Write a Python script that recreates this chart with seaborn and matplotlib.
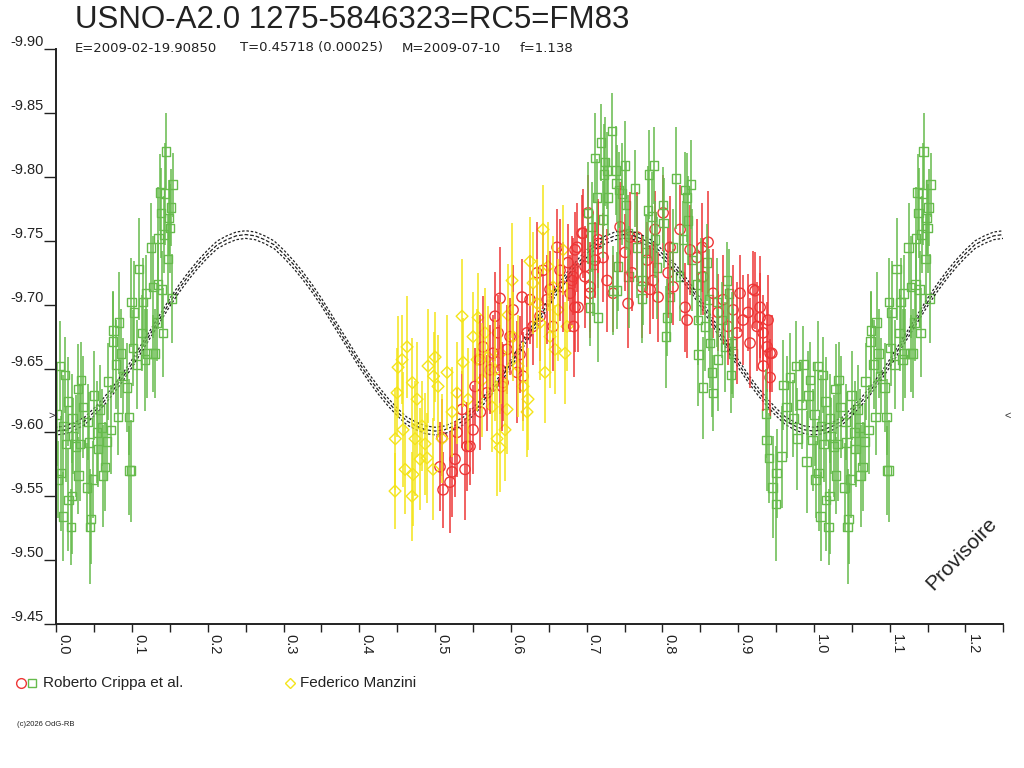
import numpy as np
import pandas as pd
import matplotlib
matplotlib.use("Agg")
import matplotlib.pyplot as plt
from matplotlib.lines import Line2D
from matplotlib.ticker import MultipleLocator
import seaborn as sns

crippa_green = [
    (0.0049, -9.652, 0.035), (0.0115, -9.645, 0.030), (0.0009, -9.614, 0.040), (0.0022, -9.563, 0.030),
    (0.0062, -9.568, 0.045), (0.0088, -9.534, 0.035), (0.0092, -9.605, 0.040), (0.0128, -9.591, 0.030),
    (0.0154, -9.624, 0.035), (0.0158, -9.547, 0.040), (0.0194, -9.526, 0.030), (0.0207, -9.550, 0.045),
    (0.0211, -9.611, 0.035), (0.0220, -9.597, 0.030), (0.0260, -9.589, 0.040), (0.0286, -9.634, 0.035),
    (0.0290, -9.566, 0.030), (0.0313, -9.591, 0.045), (0.0326, -9.641, 0.030), (0.0352, -9.620, 0.040),
    (0.0405, -9.557, 0.035), (0.0418, -9.608, 0.030), (0.0431, -9.592, 0.040), (0.0445, -9.526, 0.045),
    (0.0458, -9.532, 0.035), (0.0484, -9.563, 0.030), (0.0497, -9.629, 0.035), (0.0537, -9.600, 0.040),
    (0.0550, -9.587, 0.030), (0.0577, -9.618, 0.035), (0.0603, -9.604, 0.030), (0.0616, -9.566, 0.040),
    (0.0643, -9.573, 0.035), (0.0669, -9.593, 0.030), (0.0722, -9.602, 0.035), (0.0682, -9.640, 0.030),
    (0.0748, -9.671, 0.040), (0.0752, -9.680, 0.030), (0.0788, -9.653, 0.035), (0.0815, -9.612, 0.030),
    (0.0828, -9.686, 0.040), (0.0854, -9.662, 0.035), (0.0881, -9.644, 0.030), (0.0933, -9.635, 0.035),
    (0.0960, -9.612, 0.030), (0.0964, -9.570, 0.035), (0.0986, -9.570, 0.040), (0.0990, -9.702, 0.035),
    (0.1013, -9.666, 0.030), (0.1026, -9.694, 0.040), (0.1065, -9.653, 0.035), (0.1092, -9.728, 0.040),
    (0.1131, -9.678, 0.030), (0.1145, -9.702, 0.035), (0.1171, -9.657, 0.040), (0.1184, -9.709, 0.030),
    (0.1197, -9.662, 0.035), (0.1250, -9.745, 0.035), (0.1276, -9.662, 0.030), (0.1280, -9.714, 0.040),
    (0.1303, -9.662, 0.035), (0.1329, -9.686, 0.030), (0.1343, -9.716, 0.035), (0.1347, -9.752, 0.040),
    (0.1369, -9.788, 0.030), (0.1382, -9.772, 0.035), (0.1395, -9.712, 0.030), (0.1409, -9.678, 0.035),
    (0.1422, -9.755, 0.030), (0.1435, -9.787, 0.040), (0.1448, -9.820, 0.030), (0.1475, -9.736, 0.035),
    (0.1488, -9.768, 0.030), (0.1501, -9.760, 0.035), (0.1514, -9.776, 0.030), (0.1527, -9.705, 0.035),
    (0.1541, -9.794, 0.025),
    (0.7191, -9.827, 0.030), (0.7112, -9.815, 0.035), (0.7019, -9.772, 0.040), (0.7138, -9.784, 0.030),
    (0.7244, -9.812, 0.035), (0.7231, -9.802, 0.040), (0.7270, -9.805, 0.030), (0.7336, -9.836, 0.030),
    (0.7389, -9.805, 0.035), (0.7395, -9.795, 0.030), (0.7468, -9.787, 0.040), (0.7508, -9.809, 0.035),
    (0.7283, -9.784, 0.030), (0.7521, -9.778, 0.035), (0.7640, -9.791, 0.030), (0.7825, -9.802, 0.035),
    (0.7891, -9.809, 0.030), (0.8181, -9.799, 0.040), (0.8380, -9.794, 0.035), (0.8300, -9.790, 0.030),
    (0.8327, -9.784, 0.035), (0.8010, -9.778, 0.030), (0.7072, -9.761, 0.035), (0.7085, -9.731, 0.040),
    (0.7046, -9.698, 0.030), (0.7151, -9.690, 0.035), (0.7402, -9.711, 0.030), (0.7415, -9.730, 0.035),
    (0.7547, -9.756, 0.030), (0.7666, -9.745, 0.040), (0.7732, -9.705, 0.035), (0.7785, -9.741, 0.030),
    (0.7864, -9.769, 0.035), (0.7904, -9.751, 0.030), (0.7930, -9.729, 0.040), (0.8015, -9.764, 0.035),
    (0.8062, -9.690, 0.030), (0.8049, -9.675, 0.040), (0.8102, -9.706, 0.035), (0.8141, -9.745, 0.030),
    (0.8234, -9.722, 0.035), (0.8273, -9.751, 0.030), (0.8339, -9.766, 0.035), (0.8392, -9.735, 0.040),
    (0.8458, -9.716, 0.030), (0.8471, -9.688, 0.035), (0.8475, -9.661, 0.040), (0.8511, -9.722, 0.030),
    (0.8564, -9.683, 0.035), (0.8590, -9.733, 0.030), (0.8617, -9.704, 0.040), (0.8630, -9.670, 0.035),
    (0.8537, -9.635, 0.040), (0.8656, -9.647, 0.035), (0.8669, -9.631, 0.030), (0.8722, -9.702, 0.035),
    (0.8735, -9.657, 0.040), (0.8788, -9.688, 0.030), (0.8828, -9.667, 0.035), (0.8854, -9.719, 0.030),
    (0.8880, -9.709, 0.035), (0.8920, -9.670, 0.040), (0.8907, -9.645, 0.030), (0.8933, -9.662, 0.035),
    (0.7350, -9.711, 0.035), (0.7429, -9.790, 0.030), (0.7812, -9.774, 0.035), (0.7555, -9.722, 0.040),
    (0.7217, -9.767, 0.030), (0.7740, -9.719, 0.035),
    (0.9369, -9.615, 0.035), (0.9378, -9.594, 0.040), (0.9409, -9.580, 0.035), (0.9457, -9.557, 0.040),
    (0.9501, -9.544, 0.045), (0.9508, -9.568, 0.035), (0.9576, -9.581, 0.040), (0.9597, -9.637, 0.035),
    (0.9642, -9.620, 0.040), (0.9686, -9.643, 0.035), (0.9729, -9.611, 0.030), (0.9765, -9.652, 0.035),
    (0.9782, -9.595, 0.040), (0.9840, -9.622, 0.035), (0.9861, -9.653, 0.030), (0.9906, -9.577, 0.040),
    (0.9927, -9.629, 0.035), (0.9950, -9.641, 0.030), (0.9985, -9.594, 0.040),
]

crippa_red = [
    (0.5105, -9.555, 0.030), (0.5065, -9.573, 0.035), (0.5092, -9.596, 0.030), (0.5197, -9.561, 0.040),
    (0.5224, -9.569, 0.035), (0.5263, -9.579, 0.030), (0.5290, -9.600, 0.035), (0.5356, -9.618, 0.030),
    (0.5395, -9.571, 0.040), (0.5422, -9.589, 0.035), (0.5461, -9.589, 0.030), (0.5501, -9.602, 0.035),
    (0.5527, -9.636, 0.030), (0.5593, -9.657, 0.035), (0.5633, -9.667, 0.040), (0.5686, -9.631, 0.030),
    (0.5725, -9.649, 0.035), (0.5765, -9.662, 0.030), (0.5791, -9.691, 0.035), (0.5831, -9.678, 0.030),
    (0.5857, -9.705, 0.040), (0.5884, -9.636, 0.035), (0.5897, -9.639, 0.030), (0.5950, -9.665, 0.035),
    (0.5989, -9.675, 0.030), (0.6029, -9.696, 0.035), (0.6082, -9.647, 0.040), (0.6121, -9.661, 0.030),
    (0.6161, -9.644, 0.035), (0.6214, -9.678, 0.030), (0.6253, -9.704, 0.035), (0.6293, -9.683, 0.030),
    (0.6346, -9.725, 0.040), (0.6385, -9.691, 0.035), (0.6425, -9.727, 0.030), (0.6478, -9.704, 0.035),
    (0.6517, -9.712, 0.030), (0.6557, -9.683, 0.035), (0.6610, -9.745, 0.030), (0.6649, -9.727, 0.040),
    (0.6689, -9.714, 0.035), (0.6755, -9.733, 0.030), (0.6808, -9.719, 0.035), (0.6847, -9.743, 0.030),
    (0.6887, -9.698, 0.035), (0.6940, -9.756, 0.030), (0.6979, -9.722, 0.040), (0.7045, -9.709, 0.035),
    (0.7111, -9.735, 0.030), (0.7151, -9.748, 0.035), (0.6148, -9.706, 0.030), (0.5862, -9.649, 0.035),
    (0.5598, -9.616, 0.030),
    (0.6874, -9.745, 0.035), (0.6821, -9.722, 0.030), (0.6847, -9.698, 0.035), (0.6828, -9.683, 0.040),
    (0.7019, -9.772, 0.030), (0.6953, -9.756, 0.035), (0.6979, -9.730, 0.030), (0.7045, -9.714, 0.035),
    (0.7151, -9.751, 0.030), (0.7217, -9.737, 0.035), (0.7270, -9.719, 0.040), (0.7350, -9.709, 0.030),
    (0.7442, -9.761, 0.035), (0.7508, -9.741, 0.030), (0.7547, -9.701, 0.035), (0.7600, -9.725, 0.030),
    (0.7666, -9.753, 0.035), (0.7732, -9.714, 0.040), (0.7798, -9.735, 0.030), (0.7838, -9.712, 0.035),
    (0.7904, -9.759, 0.030), (0.7943, -9.706, 0.035), (0.8010, -9.772, 0.030), (0.8076, -9.725, 0.035),
    (0.8102, -9.745, 0.040), (0.8141, -9.714, 0.030), (0.8234, -9.759, 0.035), (0.8327, -9.688, 0.030),
    (0.8366, -9.743, 0.035), (0.8458, -9.737, 0.030), (0.8524, -9.745, 0.035), (0.8603, -9.749, 0.040),
    (0.8537, -9.722, 0.030), (0.8669, -9.709, 0.035), (0.8735, -9.694, 0.030), (0.8801, -9.704, 0.035),
    (0.8867, -9.683, 0.030), (0.8933, -9.696, 0.035), (0.8986, -9.678, 0.040), (0.9025, -9.709, 0.030),
    (0.9065, -9.688, 0.035), (0.9131, -9.694, 0.030), (0.9157, -9.670, 0.035), (0.9197, -9.712, 0.030),
    (0.9250, -9.683, 0.035), (0.9290, -9.698, 0.040), (0.9329, -9.678, 0.030), (0.9382, -9.667, 0.035),
    (0.9422, -9.662, 0.030), (0.9395, -9.688, 0.035), (0.7877, -9.719, 0.030), (0.7574, -9.753, 0.035),
    (0.6782, -9.709, 0.030), (0.8300, -9.698, 0.035), (0.9224, -9.711, 0.030), (0.9290, -9.690, 0.035),
    (0.9444, -9.662, 0.030), (0.9333, -9.652, 0.035), (0.9422, -9.643, 0.030),
]

manzini_yellow = [
    (0.4471, -9.554, 0.030), (0.4475, -9.595, 0.040), (0.4498, -9.631, 0.035), (0.4511, -9.651, 0.040),
    (0.4564, -9.657, 0.035), (0.4630, -9.667, 0.040), (0.4604, -9.571, 0.035), (0.4577, -9.602, 0.045),
    (0.4696, -9.550, 0.035), (0.4709, -9.567, 0.040), (0.4700, -9.639, 0.035), (0.4762, -9.626, 0.045),
    (0.4828, -9.605, 0.035), (0.4868, -9.591, 0.040), (0.4894, -9.580, 0.035), (0.4907, -9.652, 0.045),
    (0.4973, -9.571, 0.040), (0.5000, -9.659, 0.035), (0.5039, -9.636, 0.040), (0.5092, -9.595, 0.035),
    (0.5158, -9.647, 0.045), (0.5224, -9.616, 0.035), (0.5290, -9.631, 0.040), (0.5356, -9.691, 0.045),
    (0.5369, -9.655, 0.035), (0.5435, -9.626, 0.040), (0.5501, -9.675, 0.035), (0.5554, -9.657, 0.040),
    (0.5567, -9.690, 0.035), (0.5620, -9.641, 0.045), (0.5659, -9.678, 0.035), (0.5699, -9.659, 0.040),
    (0.5752, -9.620, 0.035), (0.5791, -9.649, 0.040), (0.5818, -9.595, 0.045), (0.5857, -9.588, 0.035),
    (0.5923, -9.602, 0.040), (0.5950, -9.618, 0.035), (0.5963, -9.692, 0.040), (0.6016, -9.719, 0.045),
    (0.6029, -9.675, 0.035), (0.6095, -9.652, 0.040), (0.6161, -9.636, 0.035), (0.6227, -9.626, 0.040),
    (0.6253, -9.734, 0.035), (0.6293, -9.717, 0.040), (0.6346, -9.701, 0.035), (0.6385, -9.686, 0.045),
    (0.6425, -9.759, 0.035), (0.6451, -9.647, 0.040), (0.6491, -9.730, 0.035), (0.6517, -9.675, 0.040),
    (0.6583, -9.665, 0.035), (0.6623, -9.696, 0.040), (0.6689, -9.743, 0.035), (0.6715, -9.662, 0.040),
    (0.6742, -9.683, 0.035), (0.6557, -9.714, 0.040), (0.4980, -9.644, 0.035), (0.4735, -9.595, 0.045),
    (0.4801, -9.579, 0.040), (0.6214, -9.616, 0.035), (0.5865, -9.662, 0.040),
]

# fitted light curve read over one half period (double wave)
model_phase = [0.0000, 0.0125, 0.0250, 0.0375, 0.0500, 0.0625, 0.0750, 0.0875, 0.1000, 0.1125,
               0.1250, 0.1375, 0.1500, 0.1625, 0.1750, 0.1875, 0.2000, 0.2125, 0.2250, 0.2375,
               0.2500, 0.2625, 0.2750, 0.2875, 0.3000, 0.3125, 0.3250, 0.3375, 0.3500, 0.3625,
               0.3750, 0.3875, 0.4000, 0.4125, 0.4250, 0.4375, 0.4500, 0.4625, 0.4750, 0.4875, 0.5000]
model_mag = [-9.601, -9.602, -9.605, -9.609, -9.616, -9.624, -9.633, -9.643, -9.654, -9.666,
             -9.678, -9.690, -9.702, -9.713, -9.723, -9.732, -9.740, -9.747, -9.751, -9.754,
             -9.755, -9.754, -9.751, -9.747, -9.740, -9.732, -9.723, -9.713, -9.702, -9.690,
             -9.678, -9.666, -9.654, -9.643, -9.633, -9.624, -9.616, -9.609, -9.605, -9.602, -9.601]
model_sigma = 0.003

x_ticks = [0.0, 0.1, 0.2, 0.3, 0.4, 0.5, 0.6, 0.7, 0.8, 0.9, 1.0, 1.1, 1.2]
y_ticks = [-9.90, -9.85, -9.80, -9.75, -9.70, -9.65, -9.60, -9.55, -9.50, -9.45]
phase_max = 1.25

c_green = "#66bb4c"
c_red = "#ee3636"
c_yellow = "#f4e41a"


def fold(points):
    df = pd.DataFrame(points, columns=["phase", "mag", "err"])
    again = df[df["phase"] + 1 <= phase_max].copy()
    again["phase"] += 1
    return pd.concat([df, again], ignore_index=True)


sns.set_style("white")
plt.rcParams["font.family"] = ["Liberation Sans", "DejaVu Sans"]

fig = plt.figure(figsize=(10.24, 7.68), dpi=100)
ax = fig.add_axes([56.3 / 1024, 144.2 / 768, 947 / 1024, 574.3 / 768])

# model curve, repeated every half period
half = pd.DataFrame({"phase": model_phase, "mag": model_mag})
curve = pd.concat([half.assign(phase=half["phase"] + k * 0.5) for k in range(3)])
curve = curve.drop_duplicates("phase")
curve = curve[curve["phase"] <= phase_max]
for off, ls in [(0, (0, (3, 1.5))), (-model_sigma, (1, (2, 1.5))), (model_sigma, (2, (2, 1.5)))]:
    sns.lineplot(x=curve["phase"].values, y=(curve["mag"] + off).values, color="#222222", lw=0.9,
                 linestyle=ls, estimator=None, sort=True, ax=ax)

series = [
    (fold(crippa_red), c_red, "o", 55),
    (fold(manzini_yellow), c_yellow, "D", 36),
    (fold(crippa_green), c_green, "s", 38),
]
for df, col, mk, size in series:
    ax.vlines(df["phase"], df["mag"] - df["err"], df["mag"] + df["err"], color=col, lw=1.1)
    sns.scatterplot(x=df["phase"], y=df["mag"], marker=mk, s=size, facecolor="none",
                    edgecolor=col, linewidth=1.0, ax=ax)

ax.set_xlim(0, phase_max)
ax.set_ylim(-9.45, -9.90)
ax.set_xlabel("")
ax.set_ylabel("")

for side in ["top", "right"]:
    ax.spines[side].set_visible(False)
for side in ["left", "bottom"]:
    ax.spines[side].set_color("#222222")
    ax.spines[side].set_linewidth(1.4)

ax.set_xticks(x_ticks)
ax.set_xticklabels([f"{v:.1f}" for v in x_ticks], rotation=-90, ha="left", va="top")
ax.xaxis.set_minor_locator(MultipleLocator(0.05))
ax.tick_params(axis="x", which="both", direction="out", length=6, width=1,
               color="#222222", bottom=True, pad=1.5, labelsize=10.5, labelcolor="#222222")
ax.set_yticks(y_ticks)
ax.set_yticklabels([f"{v:.2f}" for v in y_ticks], va="bottom")
ax.tick_params(axis="y", direction="out", length=8.5, width=1, color="#222222",
               left=True, pad=0.5, labelsize=10.5, labelcolor="#222222")

# mean level markers at both ends
ax.text(-0.002, -9.613, ">", ha="right", va="center", fontsize=8, color="#333333")
ax.text(phase_max + 0.002, -9.613, "<", ha="left", va="center", fontsize=8, color="#333333")

ax.text(1.195, -9.505, "Provisoire", rotation=46, ha="center", va="center",
        fontsize=15, color="#222222")

fig.text(75 / 1024, 1 - 20 / 768, "USNO-A2.0 1275-5846323=RC5=FM83", fontsize=22.5,
         va="center", color="#222222")
sub_y = 1 - 48 / 768
for xpx, txt in [(75, "E=2009-02-19.90850"), (240, "T=0.45718 (0.00025)"),
                 (402, "M=2009-07-10"), (520, "f=1.138")]:
    fig.text(xpx / 1024, sub_y, txt, fontsize=9.5, va="center", color="#222222",
             family="DejaVu Sans")

# legend drawn below the axes
leg_y = 1 - 683 / 768
fig.add_artist(Line2D([20.5 / 1024], [leg_y], marker="o", ms=7, mfc="none", mec=c_red,
                      mew=1, transform=fig.transFigure))
fig.add_artist(Line2D([32 / 1024], [leg_y], marker="s", ms=5.5, mfc="none", mec=c_green,
                      mew=1, transform=fig.transFigure))
fig.text(43 / 1024, leg_y, "Roberto Crippa et al.", fontsize=11, va="center", color="#222222")
fig.add_artist(Line2D([290 / 1024], [leg_y], marker="D", ms=5.5, mfc="none", mec=c_yellow,
                      mew=1, transform=fig.transFigure))
fig.text(300 / 1024, leg_y, "Federico Manzini", fontsize=11, va="center", color="#222222")

fig.text(17 / 1024, 1 - 725 / 768, "(c)2026 OdG-RB", fontsize=5.5, va="center",
         color="#222222")

fig.savefig("out.png", dpi=100)
